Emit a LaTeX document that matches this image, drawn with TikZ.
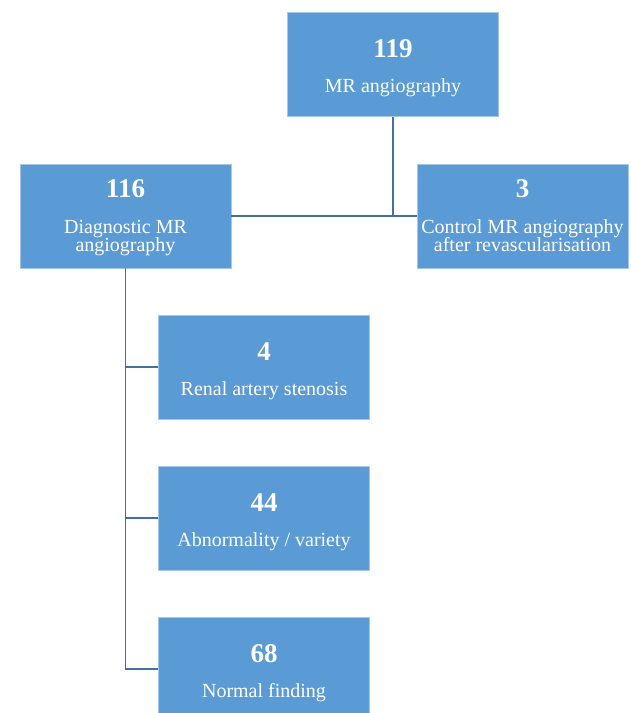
\documentclass[tikz,border=0pt]{standalone}
\usepackage{fontspec}
\setmainfont{Liberation Serif}
\definecolor{boxblue}{HTML}{5B9BD5}
\definecolor{lineblue}{HTML}{41719C}
\begin{document}
\begin{tikzpicture}[x=1pt,y=-1pt,
  box/.style={draw=boxblue!55!white, line width=0.6pt, fill=boxblue, minimum width=211pt, minimum height=104pt, inner sep=0pt},
  num/.style={text=white, font=\fontsize{27}{27}\selectfont\bfseries, anchor=base, inner sep=0pt},
  lab/.style={text=white, font=\fontsize{20}{18.5}\selectfont, anchor=base, inner sep=0pt, align=center},
  conn/.style={draw=lineblue, line width=1.3pt}]
\useasboundingbox (0,0) rectangle (630,713);
\clip (0,0) rectangle (630,713);
\node[box] (b119) at (393,64.5) {};
\node[box] (b116) at (125.5,216) {};
\node[box] (b3) at (522.5,216) {};
\node[box] (b4) at (264,367) {};
\node[box] (b44) at (264,518) {};
\node[box] (b68) at (264,669) {};
\node[num] (n119) at (393,57) {119};
\node[lab] (l119) at (393,92.7) {MR angiography};
\node[num] (n116) at (125.5,197.7) {116};
\node[lab] (l116) at (125.5,251.5) {Diagnostic MR\\angiography};
\node[num] (n3) at (522.5,197.7) {3};
\node[lab] (l3) at (522.5,251.5) {Control MR angiography\\after revascularisation};
\node[num] (n4) at (264,360) {4};
\node[lab] (l4) at (264,395) {Renal artery stenosis};
\node[num] (n44) at (264,511) {44};
\node[lab] (l44) at (264,546.5) {Abnormality / variety};
\node[num] (n68) at (264,662.7) {68};
\node[lab] (l68) at (264,697.7) {Normal finding};
\coordinate (j1) at (b119.south |- b116.east);
\draw[conn] (b119.south) -- (j1);
\draw[conn] (b116.east) -- (b3.west);
\draw[conn] (b116.south) |- (b68.west);
\draw[conn] (b116.south |- b4.west) -- (b4.west);
\draw[conn] (b116.south |- b44.west) -- (b44.west);
\end{tikzpicture}
\end{document}
